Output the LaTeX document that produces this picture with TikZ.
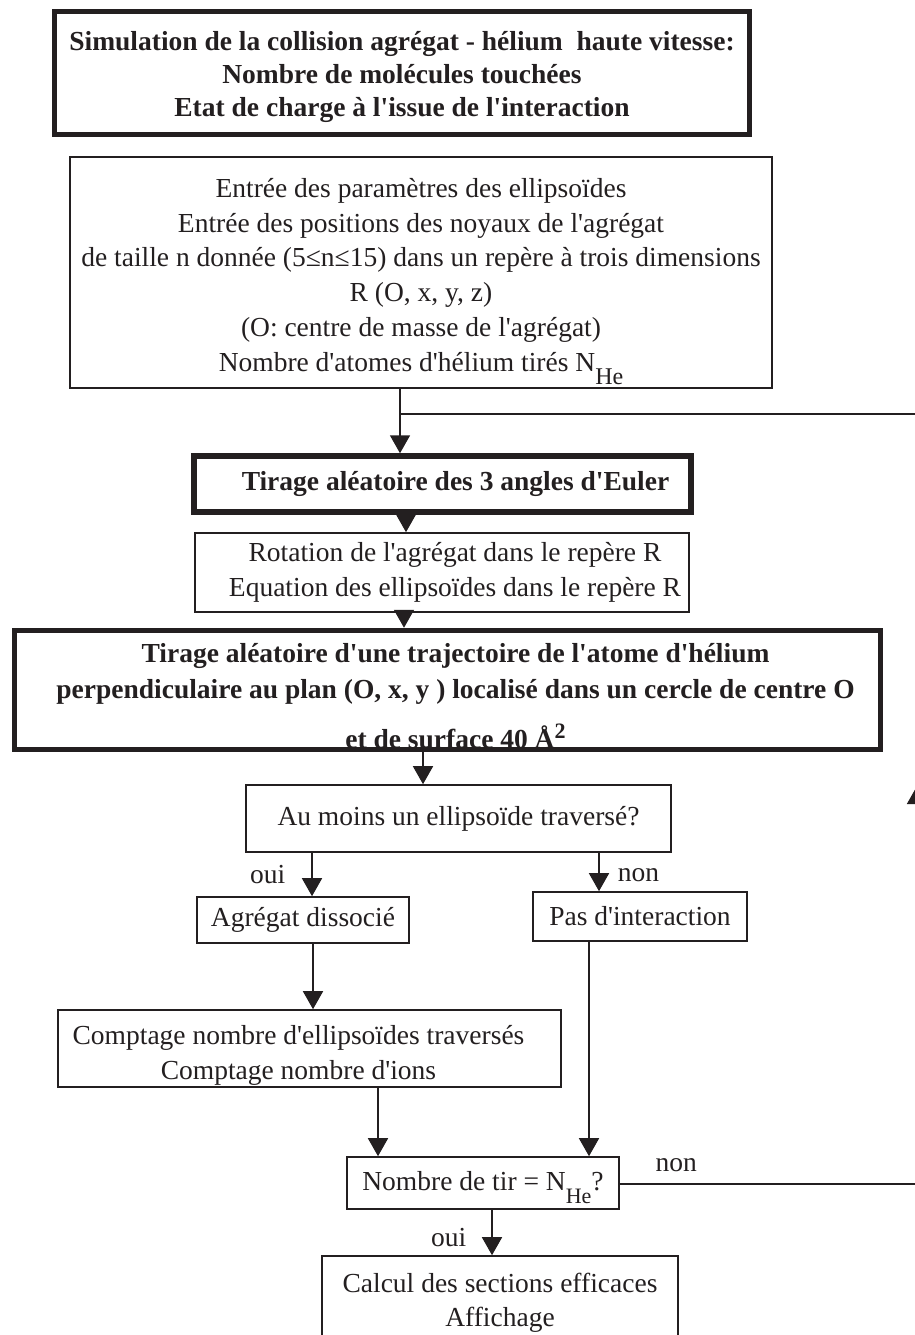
\documentclass[tikz,border=0pt]{standalone}
\usepackage{fontspec}
\setmainfont{Liberation Serif}[Ligatures=TeXOff]
\usetikzlibrary{arrows.meta, positioning}

\definecolor{ink}{HTML}{231F20}
\newcommand{\nhe}[1]{N\raisebox{-13pt}{\fontsize{#1}{#1}\selectfont He}}
\newcommand{\angsq}{Å\raisebox{10pt}{\fontsize{22}{22}\selectfont 2}}
\newcommand{\topstrut}[1]{\rule{0pt}{#1}}

\begin{document}
\begin{tikzpicture}[
    x=1pt, y=-1pt,
    font=\fontsize{27.5}{34.8}\selectfont,
    every node/.style = {text=ink},
    flow box/.style = {
        rectangle,
        draw=ink,
        line width=1.6pt,
        inner sep=0pt,
        align=center
    },
    head box/.style = {
        flow box,
        line width=5.5pt,
        font=\fontsize{27.5}{33}\selectfont\bfseries
    },
    flow line/.style = {draw=ink, line width=1.6pt},
    flow arrow/.style = {flow line, -{Triangle[width=20pt, length=18pt]}},
    branch label/.style = {inner sep=0pt}
]
\useasboundingbox (0,0) rectangle (914,1335);

\node [head box, minimum width=695pt, minimum height=123pt] (title) at (402,73)
    {\topstrut{28pt}Simulation de la collision agrégat - hélium~ haute vitesse:\\
     Nombre de molécules touchées\\
     Etat de charge à l'issue de l'interaction};

\node [flow box, minimum width=702pt, minimum height=231pt] (entree) at (421,272.5)
    {\topstrut{37pt}Entrée des paramètres des ellipsoïdes\\
     Entrée des positions des noyaux de l'agrégat\\
     de taille n donnée (5≤n≤15) dans un repère à trois dimensions\\
     R (O, x, y, z)\\
     (O: centre de masse de l'agrégat)\\
     Nombre d'atomes d'hélium tirés \nhe{24}};

\node [head box, minimum width=497pt, minimum height=56pt] (euler) at (442.5,484)
    {\hspace*{26pt}Tirage aléatoire des 3 angles d'Euler};

\node [flow box, minimum width=494pt, minimum height=79pt] (rotation) at (442,572.5)
    {\hspace*{26pt}Rotation de l'agrégat dans le repère R\\
     \hspace*{26pt}Equation des ellipsoïdes dans le repère R};

\node [head box, minimum width=866pt, minimum height=119pt,
       font=\fontsize{27.5}{36}\selectfont\bfseries] (trajet) at (447.5,690)
    {\topstrut{32pt}\hspace*{16pt}Tirage aléatoire d'une trajectoire de l'atome d'hélium\\
     \hspace*{16pt}perpendiculaire au plan (O, x, y ) localisé dans un cercle de centre O\\[14pt]
     \hspace*{16pt}et de surface 40 \angsq};

\node [flow box, minimum width=425pt, minimum height=67pt] (test) at (458.5,818.5)
    {Au moins un ellipsoïde traversé?};

\node [flow box, minimum width=212pt, minimum height=46pt] (dissoc) at (303,920)
    {Agrégat dissocié};

\node [flow box, minimum width=214pt, minimum height=49pt] (nointer) at (640,916.5)
    {Pas d'interaction};

\node [flow box, minimum width=503pt, minimum height=77pt] (comptage) at (309.5,1048.5)
    {\topstrut{33pt}Comptage nombre d'ellipsoïdes traversés\hspace*{22pt}\\
     Comptage nombre d'ions\hspace*{22pt}};

\node [flow box, minimum width=272pt, minimum height=52pt] (tirs) at (483,1183)
    {\topstrut{29pt}Nombre de tir = \nhe{22}?};

\node [flow box, minimum width=356pt, minimum height=86pt] (calcul) at (500,1299)
    {\topstrut{27pt}Calcul des sections efficaces\\
     Affichage};

\coordinate (joint) at (400,414);
\coordinate (loop top) at (917,414);
\coordinate (loop bottom) at (917,1184);
\coordinate (loop tip) at (917,786);

\draw[flow arrow] ([xshift=-21pt]entree.south) -- ([xshift=-21pt]entree.south |- euler.north);
\draw[flow arrow] ([xshift=-36.5pt]euler.south) -- ([xshift=-36.5pt]euler.south |- rotation.north);
\draw[flow arrow] ([xshift=-38pt]rotation.south) -- ([xshift=-38pt]rotation.south |- trajet.north);
\draw[flow arrow] ([xshift=-24.5pt]trajet.south) -- ([xshift=-24.5pt]trajet.south |- test.north);

\draw[flow arrow] ([xshift=-146.5pt]test.south) --
    node[pos=0.5, left=26pt, branch label] {oui} ([xshift=-146.5pt]test.south |- dissoc.north);
\draw[flow arrow] ([xshift=140.5pt]test.south) --
    node[pos=0.58, right=18pt, branch label] {non} ([xshift=140.5pt]test.south |- nointer.north);

\draw[flow arrow] ([xshift=10pt]dissoc.south) -- ([xshift=10pt]dissoc.south |- comptage.north);
\draw[flow arrow] ([xshift=68.5pt]comptage.south) -- ([xshift=68.5pt]comptage.south |- tirs.north);
\draw[flow arrow] ([xshift=-51pt]nointer.south) -- ([xshift=-51pt]nointer.south |- tirs.north);

\draw[flow arrow] ([xshift=9pt]tirs.south) --
    node[pos=0.62, left=25pt, branch label] {oui} ([xshift=9pt]tirs.south |- calcul.north);

\draw[flow arrow] (tirs.east |- loop bottom) --
    node[pos=0.19, above=11pt, branch label] {non} (loop bottom) -- (loop tip);
\draw[flow line] (loop tip) -- (loop top) -- (joint);

\end{tikzpicture}
\end{document}
